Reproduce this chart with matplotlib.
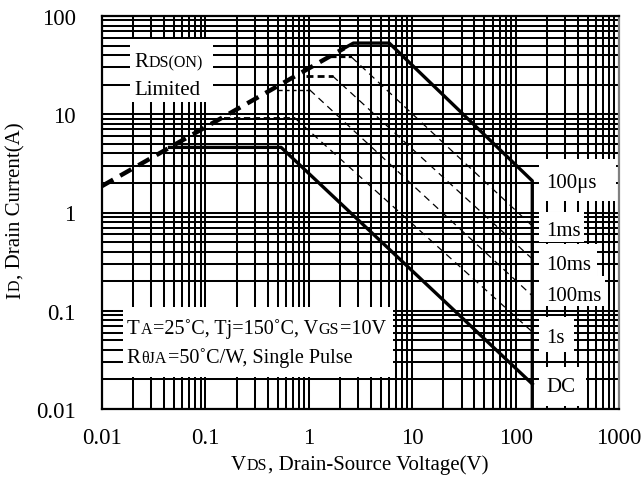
import numpy as np
import matplotlib
matplotlib.use("Agg")
import matplotlib.pyplot as plt
from matplotlib.ticker import FixedLocator, FixedFormatter, LogLocator, NullFormatter
from matplotlib.patches import Rectangle

plt.rcParams['font.family'] = ['Liberation Serif', 'DejaVu Serif']

# safe operating area (V, A)
rds_v = [0.01, 2.2]
rds_i = [1.86, 47]
us100_v = [2.2, 2.7, 6.0, 145, 145]
us100_i = [47, 53, 53, 2.1, 0.01]
ms1_v = [1.65, 2.6, 145]
ms1_i = [38, 38, 0.73]
ms10_v = [0.95, 1.7, 145]
ms10_i = [24.5, 24.5, 0.337]
ms100_v = [0.5, 1.02, 145]
ms100_i = [17.7, 17.7, 0.142]
s1_v = [0.15, 0.73, 145]
s1_i = [9.2, 9.2, 0.061]
dc_v = [0.045, 0.54, 145]
dc_i = [4.6, 4.6, 0.018]

curve_labels = ["100\u03bcs", "1ms", "10ms", "100ms", "1s", "DC"]
xtick_vals = [0.01, 0.1, 1, 10, 100, 1000]
xtick_text = ["0.01", "0.1", "1", "10", "100", "1000"]
ytick_vals = [0.01, 0.1, 1, 10, 100]
ytick_text = ["0.01", "0.1", "1", "10", "100"]

fig = plt.figure(figsize=(6.44, 4.81), dpi=100)
ax = fig.add_axes([102/644, 71/481, 517/644, 393/481])
ax.set_xscale('log')
ax.set_yscale('log')
ax.set_xlim(0.01, 1000)
ax.set_ylim(0.01, 100)

ax.xaxis.set_major_locator(FixedLocator(xtick_vals))
ax.xaxis.set_major_formatter(FixedFormatter(xtick_text))
ax.yaxis.set_major_locator(FixedLocator(ytick_vals))
ax.yaxis.set_major_formatter(FixedFormatter(ytick_text))
for a in (ax.xaxis, ax.yaxis):
    a.set_minor_locator(LogLocator(base=10, subs=np.arange(2, 10), numticks=100))
    a.set_minor_formatter(NullFormatter())
ax.tick_params(which='both', length=0, labelsize=16.5)
ax.tick_params(axis='y', pad=19)
ax.tick_params(axis='x', pad=13)
ax.grid(which='both', color='black', lw=1.45, zorder=0)
ax.set_axisbelow(True)
for s in ax.spines.values():
    s.set_linewidth(1.6)
ax.spines['right'].set_color('#808080')

# white label boxes over the grid (axes fraction)
boxes = [
    (0.054, 0.781, 0.161, 0.160),
    (0.041, 0.081, 0.522, 0.179),
    (0.845, 0.529, 0.149, 0.107),
    (0.845, 0.425, 0.087, 0.076),
    (0.845, 0.338, 0.112, 0.081),
    (0.845, 0.262, 0.128, 0.076),
    (0.845, 0.145, 0.068, 0.089),
    (0.845, 0.008, 0.091, 0.099),
]
for bx, by, bw, bh in boxes:
    ax.add_patch(Rectangle((bx, by), bw, bh, transform=ax.transAxes,
                           fc='white', ec='none', zorder=1.5))

# curves
ax.plot(rds_v, rds_i, color='black', lw=3.2, dashes=(2.9, 1.8),
        dash_capstyle='butt', zorder=3)
ax.plot(us100_v, us100_i, color='black', lw=2.4, zorder=3)
ax.plot(dc_v, dc_i, color='black', lw=2.4, zorder=3)
flat_styles = [(1.6, (2.5, 1.5)), (2.0, (2.5, 1.5)), (1.0, (3.0, 2.0)), (1.3, (3.5, 2.0))]
for (v, i), (lw, ds) in zip([(ms1_v, ms1_i), (ms10_v, ms10_i), (ms100_v, ms100_i), (s1_v, s1_i)],
                            flat_styles):
    ax.plot(v[:2], i[:2], color='black', lw=lw, dashes=ds, zorder=3)
    ax.plot(v[1:], i[1:], color='black', lw=0.9, dashes=(5.6, 4.0), zorder=3)

label_y = [0.577, 0.453, 0.367, 0.288, 0.183, 0.056]
for txt, ly in zip(curve_labels, label_y):
    ax.text(0.86, ly, txt, transform=ax.transAxes, fontsize=15,
            va='center', ha='left', zorder=4)


def mixed_text(x, y, parts, trans, ha='left', rotation=0):
    r = fig.canvas.get_renderer()
    arts = []
    for s, size in parts:
        t = ax.annotate(s, xy=(x, y), xycoords=trans, xytext=(0, 0),
                        textcoords='offset points', fontsize=size,
                        ha='left', va='baseline', rotation=rotation,
                        rotation_mode='anchor', annotation_clip=False, zorder=4)
        arts.append(t)
    sizes = []
    for t in arts:
        bb = t.get_window_extent(r)
        sizes.append((bb.width if rotation == 0 else bb.height) * 72 / fig.dpi + 0.6)
    off = 0 if ha == 'left' else -sum(sizes) / 2
    for t, w in zip(arts, sizes):
        t.xyann = (off, 0) if rotation == 0 else (0, off)
        off += w


big, small = 15, 11.5
mixed_text(0.062, 0.873, [("R", big), ("DS(ON)", small)], ax.transAxes)
mixed_text(0.062, 0.802, [("Limited", big)], ax.transAxes)
mixed_text(0.048, 0.193, [("T", big), ("A", small), ("=25\u02daC, Tj=150\u02daC, V", 14.5),
                          ("GS", small), ("=10V", 14.5)], ax.transAxes)
mixed_text(0.048, 0.120, [("R", big), ("\u03b8JA", small), ("=50\u02daC/W, Single Pulse", 14.5)],
           ax.transAxes)
mixed_text(360/644, 1 - 470/481, [("V", big), ("DS", small), (", Drain-Source Voltage(V)", big)],
           fig.transFigure, ha='center')
mixed_text(20/644, 1 - 210/481, [("I", big), ("D", small), (", Drain Current(A)", big)],
           fig.transFigure, ha='center', rotation=90)

fig.savefig("out.png", dpi=100)
